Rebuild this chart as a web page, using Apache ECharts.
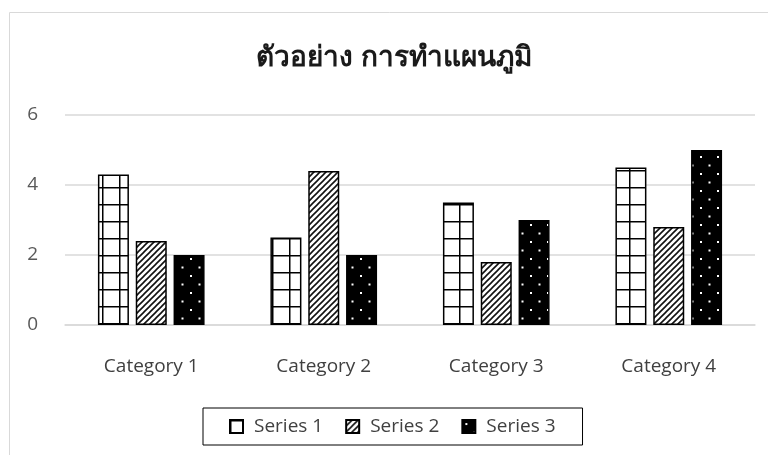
<!DOCTYPE html>
<html><head><meta charset="utf-8">
<script src="https://cdn.jsdelivr.net/npm/echarts@6/dist/echarts.min.js"></script>
<style>html,body{margin:0;padding:0;background:#fff}#c{width:768px;height:455px}</style>
</head><body><div id="c"></div>
<script>
const categories = ['Category 1', 'Category 2', 'Category 3', 'Category 4'];
const seriesNames = ['Series 1', 'Series 2', 'Series 3'];
const series1 = [4.3, 2.5, 3.5, 4.5];
const series2 = [2.4, 4.4, 1.8, 2.8];
const series3 = [2, 2, 3, 5];
const yTicks = [0, 2, 4, 6];
const titleText = 'ตัวอย่าง การทำแผนภูมิ';
const FONT = 'Open Sans, Noto Sans, sans-serif';

function makeGrid() {
  const c = document.createElement('canvas'); c.width = 17; c.height = 17;
  const g = c.getContext('2d');
  g.fillStyle = '#fff'; g.fillRect(0, 0, 17, 17);
  g.fillStyle = '#000';
  g.fillRect(0, 0, 17, 1.5); g.fillRect(0, 0, 1.5, 17);
  return c;
}
function makeDiag() {
  const s = 6;
  const c = document.createElement('canvas'); c.width = s; c.height = s;
  const g = c.getContext('2d');
  g.fillStyle = '#fff'; g.fillRect(0, 0, s, s);
  g.strokeStyle = '#111'; g.lineWidth = 1.6;
  g.beginPath();
  g.moveTo(-1, s + 1); g.lineTo(s + 1, -1);
  g.moveTo(-1, 1); g.lineTo(1, -1);
  g.moveTo(s - 1, s + 1); g.lineTo(s + 1, s - 1);
  g.stroke();
  return c;
}
function makeDots() {
  const c = document.createElement('canvas'); c.width = 17; c.height = 17;
  const g = c.getContext('2d');
  g.fillStyle = '#000'; g.fillRect(0, 0, 17, 17);
  g.fillStyle = '#fff';
  g.fillRect(3, 3, 2, 2); g.fillRect(11.5, 11.5, 2, 2);
  return c;
}
const pats = [makeGrid(), makeDiag(), makeDots()];
const data = [series1, series2, series3];

const chart = echarts.init(document.getElementById('c'), null, {renderer: 'canvas'});
chart.setOption({
  animation: false,
  graphic: [{
    type: 'rect', shape: {x: 9.5, y: 12.5, width: 800, height: 500},
    style: {fill: 'none', stroke: '#d9d9d9', lineWidth: 1}, silent: true, z: -1
  }, {
    type: 'text', x: 394, y: 58, silent: true,
    style: {text: titleText, align: 'center', verticalAlign: 'middle',
      font: 'bold 28px "Noto Sans", sans-serif', fill: '#1a1a1a'}
  }],
  grid: {left: 65, right: 13, top: 115, bottom: 130},
  legend: {
    data: seriesNames, left: 203, top: 408,
    padding: [9, 27, 9, 26], itemGap: 22, itemWidth: 13, itemHeight: 13, icon: 'rect',
    borderColor: '#000', borderWidth: 1,
    textStyle: {fontSize: 19, color: '#404040', fontFamily: FONT, padding: [0, 0, 0, 6]}
  },
  xAxis: {
    type: 'category', data: categories,
    axisLine: {lineStyle: {color: '#d9d9d9', width: 1.5}},
    axisTick: {show: false},
    axisLabel: {fontSize: 19, color: '#404040', margin: 32, fontFamily: FONT}
  },
  yAxis: {
    type: 'value', min: yTicks[0], max: yTicks[yTicks.length - 1], interval: 2,
    axisLine: {show: false}, axisTick: {show: false},
    splitLine: {lineStyle: {color: '#d9d9d9', width: 1.5}},
    axisLabel: {fontSize: 19, color: '#595959', margin: 27, fontFamily: FONT}
  },
  series: seriesNames.map((n, i) => ({
    name: n, type: 'bar', data: data[i], barWidth: 31, barGap: '22%',
    itemStyle: {color: {image: pats[i], repeat: 'repeat'}, borderColor: '#000', borderWidth: 1.5}
  }))
});
</script></body></html>
